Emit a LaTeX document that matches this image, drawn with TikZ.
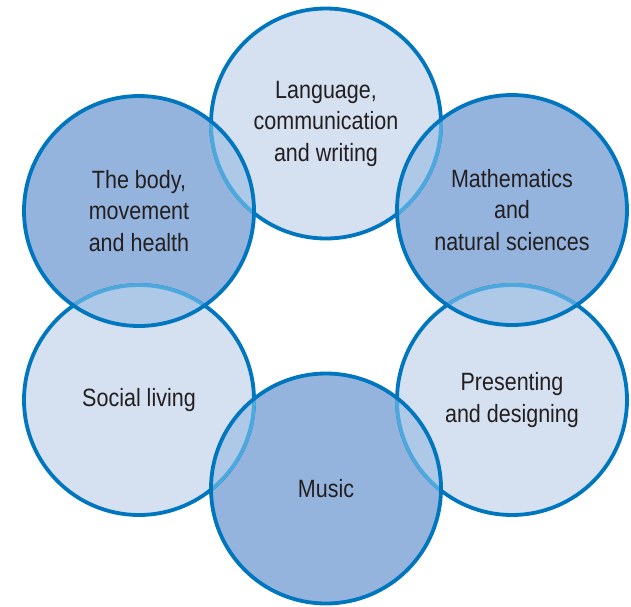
\documentclass[tikz,border=0pt]{standalone}
\usepackage{fontspec}
\setmainfont{Liberation Sans}[FakeStretch=0.86]
\definecolor{ringblue}{RGB}{0,118,190}
\definecolor{ringcyan}{RGB}{77,168,222}
\definecolor{lightfill}{RGB}{213,224,241}
\definecolor{darkfill}{RGB}{148,180,221}
\definecolor{mixfill}{RGB}{174,200,232}
\definecolor{textgray}{RGB}{35,31,32}
\begin{document}
\begin{tikzpicture}[x=1pt, y=-1pt,
    every node/.style={text=textgray, font=\fontsize{25}{31.5}\selectfont, align=center},
    area/.style={circle, minimum size=230pt, inner sep=0pt},
    ring/.style={draw=ringblue, line width=3.8pt}]
    \useasboundingbox (0,0) rectangle (631,606);

    % Learning areas
    \node[area, fill=lightfill] (lang) at (326,123.5) {Language,\\communication\\and writing};
    \node[area, fill=lightfill] (social) at (139,400) {Social living};
    \node[area, fill=lightfill] (present) at (512,400) {Presenting\\and designing};
    \node[area, fill=darkfill] (body) at (139,211) {The body,\\movement\\and health};
    \node[area, fill=darkfill] (math) at (512,210) {Mathematics\\and\\natural sciences};
    \node[area, fill=darkfill] (music) at (326,488.5) {Music};

    \draw[ring] (lang.center) circle (115) (social.center) circle (115) (present.center) circle (115);

    % Overlaps
    \begin{scope}
        \clip (body.center) circle (115);
        \fill[mixfill] (lang.center) circle (115) (social.center) circle (115);
        \draw[ring, draw=ringcyan] (lang.center) circle (115) (social.center) circle (115);
    \end{scope}
    \begin{scope}
        \clip (math.center) circle (115);
        \fill[mixfill] (lang.center) circle (115) (present.center) circle (115);
        \draw[ring, draw=ringcyan] (lang.center) circle (115) (present.center) circle (115);
    \end{scope}
    \begin{scope}
        \clip (music.center) circle (115);
        \fill[mixfill] (social.center) circle (115) (present.center) circle (115);
        \draw[ring, draw=ringcyan] (social.center) circle (115) (present.center) circle (115);
    \end{scope}

    \draw[ring] (body.center) circle (115) (math.center) circle (115) (music.center) circle (115);
\end{tikzpicture}
\end{document}
